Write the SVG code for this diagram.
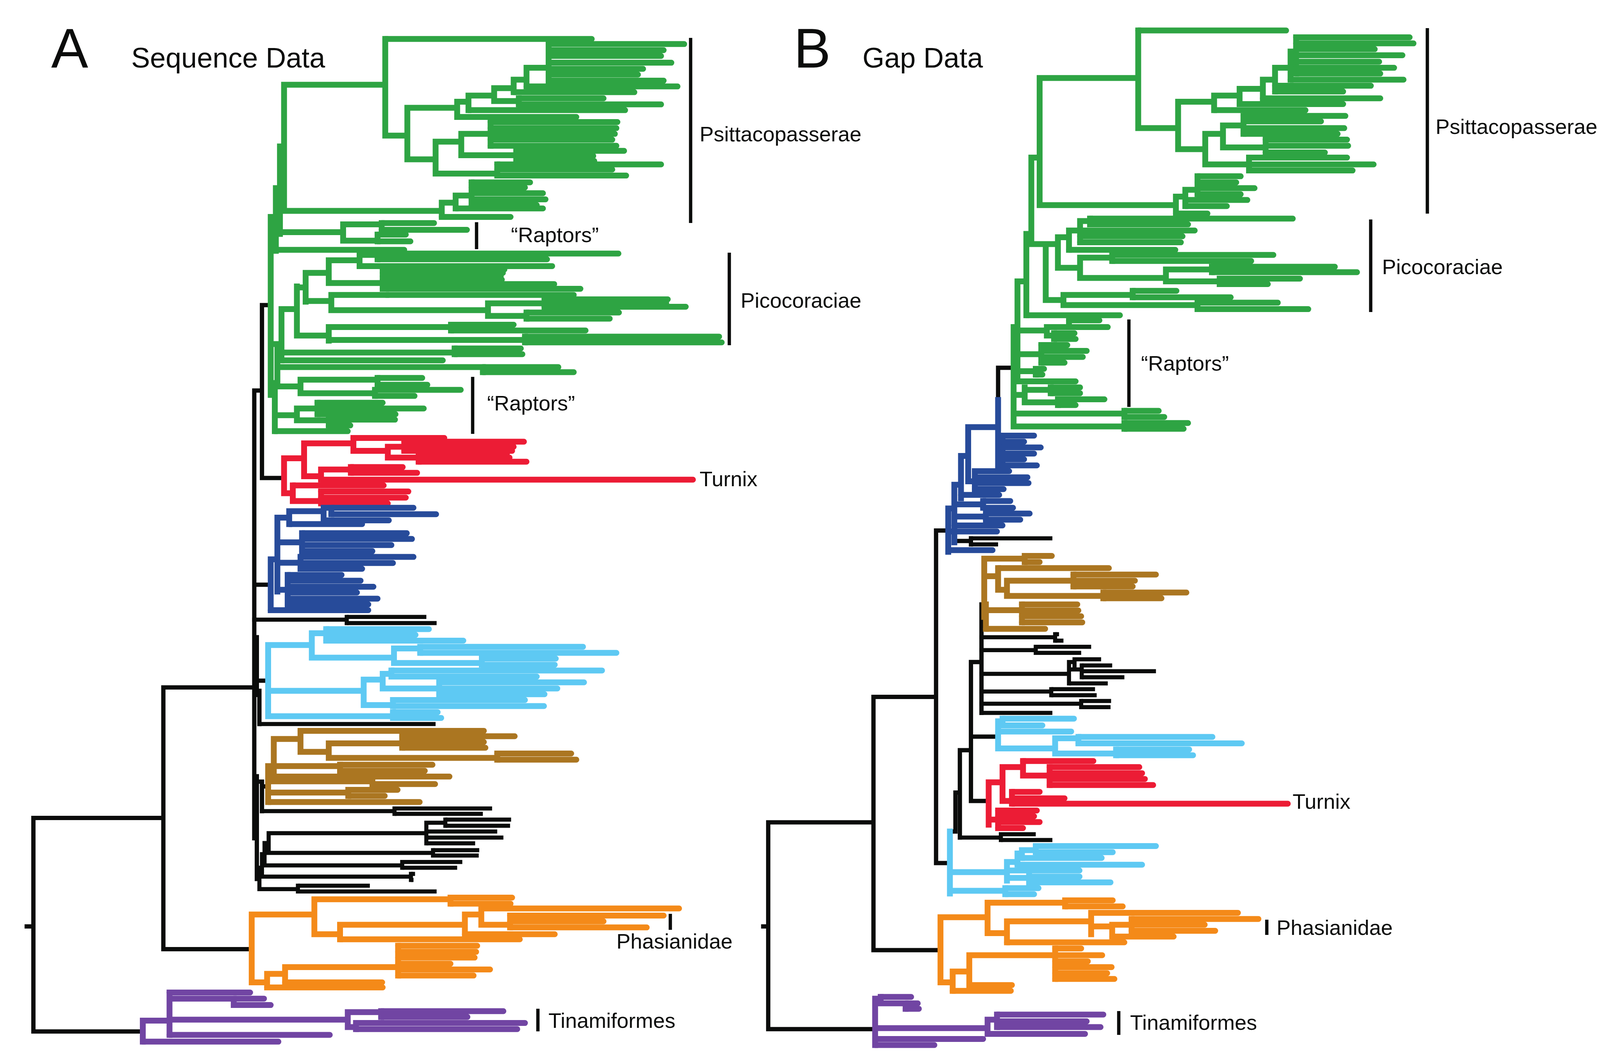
<svg xmlns="http://www.w3.org/2000/svg" width="4124" height="2722" viewBox="0 0 4124 2722">
<style>
path{fill:none;vector-effect:non-scaling-stroke}
.i{stroke-linecap:square;stroke-width:15}
.t{stroke-linecap:round;stroke-width:15}
.kb{stroke:#0b0c0b;stroke-width:11;stroke-linecap:square}
.ki{stroke:#0b0c0b;stroke-width:10.5;stroke-linecap:square}
.kt{stroke:#0b0c0b;stroke-width:10.5;stroke-linecap:butt}
.g{stroke:#2ea443}.r{stroke:#ec1c35}.b{stroke:#274b9a}.lb{stroke:#5ec9f3}.br{stroke:#ab7621}.o{stroke:#f48a19}.p{stroke:#7145a3}
.bar{stroke:#0b0c0b;stroke-width:8.5}
text{font-family:"Liberation Sans",Arial,Helvetica,sans-serif;fill:#0b0c0b}
.lab{font-size:54px}.ttl{font-size:72px}.big{font-size:142px}
</style>
<rect width="4124" height="2722" fill="#fff"/>

<g id="panelA" transform="matrix(1.315 0 0 0.868 0 0)">
 <g id="connectorsA">
  <path class="kb" d="M52,2733H65 M65,2413V3043 M65,2413H318 M65,3043H278 M318,2028V2800 M318,2028H495 M318,2800H490 M495,1152V2473 M495,1152H510 M510,900V1410 M510,900H527 M510,1410H553 M495,1725H527 M500,1880V2050 M495,2008H522 M505,2038V2136 M500,2290V2593 M510,2306V2393 M500,2306H510 M510,2320H522"/>
 </g>
 <g id="A-green">
  <path class="i g" d="M553,250V622 M553,250H750 M553,622H860 M545,432V690 M545,432H553 M537,555V740 M537,555H545 M527,640V1165 M527,640H537 M545,685H668 M527,1015H540 M540,1015V1140 M548,912V1063 M540,1040H885 M548,912H578 M578,845V990 M578,848H595 M578,990H640 M595,805V890 M595,805H640 M595,888H645 M640,768V835 M640,768H700 M640,835H745 M700,752V785 M700,752H735 M735,748V765 M745,795V852 M645,870V915 M645,870H752 M645,915H950 M950,895V932 M950,895H1060 M1060,883V905 M950,932H1025 M1025,922V940 M640,965V1005 M640,965H878 M878,958V975 M640,1003H1022 M1022,993V1010 M885,1028V1045 M540,1083H940 M940,1083V1098
  M750,115V400 M750,400H793 M793,318V470 M793,318H890 M793,470H848 M890,300V345 M890,300H912 M912,282V325 M912,282H962 M962,260V298 M962,260H1000 M962,298H1010 M1010,290V308 M1000,235V272 M1000,235H1025 M1025,200V255 M1025,200H1068 M1068,130V238 M848,418V512 M848,418H898 M848,512H968 M898,395V458 M898,395H955 M898,458H1005 M955,360V430 M1005,445V475 M968,485V518
  M860,598V640 M860,598H887 M887,577V615 M887,577H918 M918,538V605
  M668,662V710 M668,662H743 M668,710H735 M743,658V678 M735,692V712
  M540,1140H585 M585,1120V1160 M585,1120H735 M585,1160H730 M735,1115V1135 M730,1150V1168 M535,1130V1272 M535,1225H578 M578,1205V1240 M578,1205H618 M578,1240H640 M618,1188V1222 M640,1238V1255"/>
  <path class="t g" d="M735,748H1204 M735,765H1065 M700,785H1075 M745,795H982 M745,805H979 M745,815H975 M745,825H977 M745,838H1079 M745,852H1130 M752,870H1117 M1060,883H1300 M1060,894H1297 M1060,905H1335 M1025,922H1205 M1025,940H1187 M878,958H1000 M878,975H1140 M1022,993H1400 M1022,1010H1405 M885,1028H1014 M885,1045H1017 M548,1063H862 M940,1083H1087 M940,1098H1117
  M750,115H1152 M1068,130H1332 M1068,148H1292 M1068,165H1287 M1068,185H1307 M1068,203H1252 M1068,220H1242 M1068,238H1292 M1025,255H1319 M1000,272H1235 M1010,290H1175 M1010,308H1287 M912,325H1217 M890,345H1122 M955,360H1202 M955,378H1200 M955,395H1197 M955,412H1192 M955,430H1200 M1005,445H1215 M1005,460H1155 M1005,475H1157 M968,485H1287 M968,500H1192 M968,518H1219
  M860,640H994 M887,615H1057 M918,538H1032 M918,553H1022 M918,570H1057 M918,588H1062 M918,605H1045
  M743,658H845 M743,678H909 M735,692H790 M735,712H799 M537,737H787
  M735,1115H822 M735,1135H832 M730,1150H897 M730,1168H807 M618,1188H745 M618,1205H825 M618,1222H770 M640,1238H769 M640,1255H682 M535,1272H677"/>
 </g>
 <g id="A-red">
  <path class="i r" d="M553,1352V1455 M553,1352H592 M592,1308V1405 M592,1308H688 M592,1405H625 M688,1292V1330 M688,1330H755 M755,1318V1350 M755,1318H787 M755,1350H815 M787,1303V1330 M815,1338V1362 M625,1385V1415 M625,1385H683 M683,1378V1395 M553,1455H570 M570,1432V1478 M570,1478H625 M625,1450V1485"/>
  <path class="t r" d="M688,1292H865 M787,1303H1020 M787,1318H1000 M787,1330H997 M815,1338H987 M815,1350H992 M815,1362H1025 M683,1378H784 M683,1395H812 M625,1415H1349 M570,1432H747 M625,1450H795 M625,1468H790 M625,1485H755"/>
 </g>
 <g id="A-blue">
  <path class="i b" d="M540,1527V1745 M527,1650V1800 M527,1650H540 M540,1527H563 M563,1508V1546 M563,1508H630 M630,1498V1535 M630,1498H645 M645,1498V1517 M540,1600H588 M588,1573V1626 M540,1660H585 M585,1643V1678 M540,1740H560 M560,1696V1783"/>
  <path class="t b" d="M645,1498H805 M645,1517H849 M630,1535H757 M563,1546H705 M588,1573H792 M588,1590H802 M588,1608H762 M588,1626H725 M585,1643H805 M585,1661H765 M585,1678H705 M560,1696H665 M560,1713H702 M560,1731H727 M560,1748H695 M560,1766H735 M560,1783H717 M527,1800H717"/>
 </g>
 <g id="A-black">
  <path class="ki" d="M495,1828H675 M675,1820V1838 M510,2393H768 M768,2385V2401 M523,2458V2516 M515,2487V2553 M515,2487H523 M510,2520V2586 M510,2520H515 M505,2560V2623 M505,2560H510 M500,2593H505 M523,2458H830 M830,2427V2488 M830,2427H867 M867,2418V2436 M523,2516H843 M843,2508V2524 M510,2553H783 M783,2543V2560 M510,2586H800 M800,2578V2596 M505,2623H580 M580,2613V2630"/>
  <path class="kt" d="M675,1820H830 M675,1838H850 M505,2136H848 M768,2385H958 M768,2401H940 M867,2418H995 M867,2436H993 M830,2453H968 M830,2471H980 M830,2488H925 M843,2508H933 M843,2524H932 M783,2543H900 M783,2560H890 M800,2578H808 M800,2596H805 M580,2613H720 M580,2630H850"/>
 </g>
 <g id="A-lightblue">
  <path class="i lb" d="M522,1903V2113 M522,1903H607 M607,1868V1940 M607,1868H635 M635,1856V1890 M607,1940H767 M767,1913V1956 M767,1913H818 M818,1908V1926 M767,1956H938 M938,1943V1961 M522,2038H708 M708,2005V2080 M708,2005H745 M745,1988V2031 M745,1988H762 M762,1978V1996 M745,2031H855 M855,2013V2048 M708,2080H765 M765,2065V2083 M522,2113H765 M765,2101V2118"/>
  <path class="t lb" d="M635,1856H835 M635,1873H809 M635,1890H902 M818,1908H1135 M818,1926H1200 M938,1943H1082 M938,1961H1080 M762,1978H1172 M762,1996H1045 M855,2013H1137 M855,2031H1085 M855,2048H1060 M765,2065H1022 M765,2083H1059 M765,2101H852 M765,2118H859"/>
 </g>
 <g id="A-brown">
  <path class="i br" d="M533,2180V2285 M522,2285H533 M522,2260V2366 M533,2180H585 M585,2156V2218 M585,2218H640 M640,2193V2236 M640,2193H783 M783,2172V2206 M640,2236H968 M968,2223V2241 M522,2260H662 M662,2256V2274 M522,2305H725 M725,2305V2318 M522,2338H678 M678,2330V2348"/>
  <path class="t br" d="M585,2156H942 M783,2172H1002 M783,2189H942 M783,2206H945 M968,2223H1112 M968,2241H1122 M662,2256H842 M662,2274H827 M522,2291H875 M725,2313H847 M678,2330H774 M678,2348H749 M522,2366H817"/>
 </g>
 <g id="A-orange">
  <path class="i o" d="M490,2698V2898 M490,2698H612 M612,2653V2756 M612,2653H877 M877,2648V2666 M612,2756H662 M662,2728V2771 M662,2728H905 M905,2698V2756 M905,2698H937 M937,2680V2728 M937,2728H993 M993,2701V2736 M490,2898H520 M520,2873V2913 M520,2873H555 M555,2853V2898 M555,2853H775 M775,2790V2878"/>
  <path class="t o" d="M877,2648H997 M877,2666H994 M937,2680H1322 M993,2701H1292 M993,2718H1175 M993,2736H1259 M905,2756H1080 M662,2771H1012 M775,2790H929 M775,2808H927 M775,2825H924 M775,2843H877 M775,2860H954 M775,2878H922 M555,2898H744 M520,2913H745"/>
 </g>
 <g id="A-purple">
  <path class="i p" d="M278,3011V3073 M278,3011H330 M330,2928V3053 M330,2946H455 M455,2946V2965 M330,3008H677 M677,2986V3030 M677,2986H742 M742,2983V3000 M677,3030H693 M693,3018V3036"/>
  <path class="t p" d="M330,2928H487 M455,2946H514 M455,2965H527 M742,2983H980 M742,3000H910 M693,3018H1022 M693,3036H1007 M330,3053H642 M278,3073H542"/>
 </g>
</g>

<g id="panelB" transform="matrix(1.418 0 0 0.868 1900 0)">
 <g id="connectorsB">
  <path class="kb" d="M38,2733H47 M47,2426V3036 M47,2426H237 M47,3036H240 M237,2056V2803 M237,2056H350 M237,2803H358 M350,1565V2546 M350,1565H372 M350,2546H375 M462,1085V1180 M462,1085H490 M432,1783V2103 M413,1953V2363 M413,1953H432 M393,2213V2471 M393,2213H413 M413,2363H445 M385,2338V2453 M385,2338H393 M375,2453H385 M413,2173H462 M383,1596H413 M413,1588V1606 M432,1783H440"/>
 </g>
 <g id="B-green">
  <path class="i g" d="M715,90V378 M537,230H715 M715,378H787 M787,300V440 M787,300H852 M787,440H836 M852,282V325 M852,282H898 M898,262V307 M898,262H940 M940,235V290 M940,235H962 M962,200V270 M962,200H990 M990,152V235 M990,152H1000 M1000,110V217 M836,395V485 M836,395H868 M836,485H915 M868,370V435 M868,370H905 M868,435H945 M905,342V395 M945,412V450 M915,465V503
  M537,230V605 M537,605H783 M783,580V630 M783,580H800 M800,560V608 M800,560H822 M822,520V573
  M522,465V720 M522,465H537 M522,720H548 M513,690V930 M513,690H522 M497,830V1125 M497,830H513 M490,965V1258 M490,965H497
  M548,720V885 M548,720H570 M548,885H580 M570,700V790 M570,700H590 M570,790H610 M590,680V737 M590,680H610 M610,652V715 M610,652H628 M628,645V662 M610,760V820 M610,760H668 M668,752V770 M610,820H765 M765,795V830 M765,795H848 M848,787V803 M765,830H862 M862,822V838 M580,870V900 M580,870H705 M705,858V877 M580,900H822 M822,893V912
  M497,975H550 M550,965V990 M550,965H590 M590,945V965 M550,990H563 M563,983V1000 M497,1045H540 M540,1018V1070 M497,1095H530 M530,1088V1105 M490,1165H510 M510,1143V1187 M510,1150H557 M557,1143V1160 M510,1187H570 M570,1178V1195 M490,1220H690 M690,1212V1230 M490,1258H690 M690,1248V1265"/>
  <path class="t g" d="M715,90H982 M1000,110H1205 M1000,128H1212 M1000,145H1142 M1000,163H1192 M1000,182H1150 M1000,200H1177 M1000,217H1152 M990,235H1194 M962,253H1135 M962,270H1085 M940,290H1152 M898,307H1085 M852,325H1017 M905,342H1089 M905,358H1045 M905,378H1087 M905,395H1075 M945,412H1092 M945,430H1094 M945,450H1052 M915,465H1092 M915,485H1140 M915,503H1102
  M822,520H900 M822,538H892 M822,555H925 M822,573H900 M800,590H912 M800,608H875 M783,630H840
  M628,645H994 M628,662H805 M610,680H817 M610,697H795 M610,715H792 M590,737H782 M668,752H959 M668,770H919 M848,787H1070 M848,803H1110 M862,822H1007 M862,838H949 M705,858H784 M705,877H882 M822,893H967 M822,912H1022
  M513,930H682 M590,945H645 M590,965H660 M563,983H600 M563,1000H602 M540,1018H587 M540,1035H622 M540,1053H615 M540,1070H582 M530,1088H545 M530,1105H542 M497,1125H602 M557,1143H610 M557,1160H610 M570,1178H654 M570,1195H602 M690,1212H752 M690,1230H762 M690,1248H805 M690,1265H797"/>
 </g>
 <g id="B-blue">
  <path class="i b" d="M462,1180V1375 M408,1260H462 M408,1260V1420 M462,1330H470 M470,1285V1373 M408,1420H420 M420,1390V1443 M395,1345V1470 M395,1345H408 M383,1430V1600 M383,1430H395 M383,1488H435 M435,1478V1498 M383,1524H440 M440,1515V1533 M372,1500V1628 M372,1500H383"/>
  <path class="t b" d="M470,1285H527 M470,1303H509 M470,1320H539 M470,1338H527 M470,1355H509 M470,1373H532 M420,1390H482 M420,1408H515 M420,1425H517 M420,1443H472 M395,1460H464 M435,1478H484 M435,1498H489 M440,1515H519 M440,1533H502 M383,1550H470 M372,1568H460 M372,1623H452"/>
 </g>
 <g id="B-brown">
  <path class="i br" d="M437,1648V1820 M437,1648H510 M510,1640V1658 M437,1700H462 M462,1676V1740 M462,1740H478 M478,1713V1758 M478,1713H598 M598,1695V1730 M478,1758H652 M652,1748V1765 M440,1783V1855 M440,1800H505 M505,1783V1836"/>
  <path class="t br" d="M510,1640H559 M510,1658H537 M462,1676H662 M598,1695H747 M598,1713H709 M598,1730H705 M652,1748H802 M652,1765H757 M505,1783H605 M505,1801H607 M505,1818H612 M505,1836H614 M440,1855H547"/>
 </g>
 <g id="B-black">
  <path class="ki" d="M432,1880H565 M565,1871V1890 M432,1918H530 M530,1908V1926 M432,1988H590 M590,1953V2016 M590,1953H600 M600,1945V1963 M590,1975H613 M613,1963V1998 M432,2040H558 M558,2033V2051 M432,2076H612 M612,2068V2086 M393,2471H467 M467,2461V2478"/>
  <path class="kt" d="M413,1588H560 M413,1606H462 M565,1871H572 M565,1890H580 M530,1908H630 M530,1926H612 M600,1945H648 M613,1963H668 M613,1980H747 M613,1998H690 M590,2016H660 M558,2033H637 M558,2051H640 M612,2068H666 M612,2086H665 M432,2103H560 M467,2461H530 M467,2478H560"/>
 </g>
 <g id="B-lightblue">
  <path class="i lb" d="M462,2128V2208 M462,2128H470 M470,2120V2140 M462,2208H565 M565,2178V2223 M565,2178H607 M607,2174V2193 M565,2223H675 M675,2211V2228 M375,2453V2636 M375,2573H478 M478,2543V2598 M478,2543H497 M497,2518V2551 M497,2518H505 M505,2508V2531 M505,2508H530 M530,2496V2514 M478,2590H518 M518,2578V2603 M375,2628H475 M475,2620V2638"/>
  <path class="t lb" d="M470,2120H599 M470,2140H542 M462,2158H594 M607,2174H849 M607,2193H902 M675,2211H807 M675,2228H814 M530,2496H747 M530,2514H669 M505,2531H649 M497,2551H722 M478,2568H609 M518,2586H609 M518,2603H665 M475,2620H535 M475,2638H527"/>
 </g>
 <g id="B-red">
  <path class="i r" d="M445,2308V2433 M445,2308H470 M470,2263V2363 M470,2263H507 M507,2245V2288 M507,2288H555 M555,2263V2316 M470,2363H487 M487,2336V2371 M445,2418H462 M462,2391V2443"/>
  <path class="t r" d="M507,2245H634 M555,2263H717 M555,2281H722 M555,2298H727 M555,2316H742 M487,2336H537 M487,2355H582 M487,2371H985 M462,2391H532 M462,2408H527 M462,2425H537 M462,2443H507"/>
 </g>
 <g id="B-orange">
  <path class="i o" d="M358,2706V2898 M358,2706H443 M443,2663V2753 M443,2663H583 M583,2656V2674 M443,2753H478 M478,2718V2780 M478,2718H630 M630,2693V2756 M630,2733H668 M668,2728V2763 M668,2728H703 M703,2711V2746 M358,2898H380 M380,2866V2923 M380,2866H410 M410,2818V2906 M410,2818H565 M565,2798V2888"/>
  <path class="t o" d="M583,2656H669 M583,2674H687 M630,2693H895 M703,2711H932 M703,2728H835 M703,2746H854 M668,2763H779 M478,2780H690 M565,2798H612 M565,2818H650 M565,2836H624 M565,2853H667 M565,2871H659 M565,2888H672 M410,2906H487 M380,2923H485"/>
 </g>
 <g id="B-purple">
  <path class="i p" d="M240,2946V3083 M240,2946H250 M250,2941V2960 M250,2960H295 M295,2960V2976 M240,3033H443 M443,3008V3050 M443,3008H460 M460,2993V3030"/>
  <path class="t p" d="M250,2941H305 M295,2960H317 M295,2976H319 M460,2993H652 M460,3013H622 M460,3030H647 M443,3050H619 M240,3065H435 M240,3083H347"/>
 </g>
</g>

<g id="bars">
 <path class="bar" d="M1768,97V571 M1220,569V638 M1867,647V884 M1210,965V1111 M1716,2340V2381 M1377,2583V2641 M3654,72V547 M3509,562V799 M2890,818V1042 M3243,2355V2394 M2864,2589V2650"/>
</g>
<g id="titles">
 <text class="big" x="131" y="173">A</text>
 <text class="ttl" x="336" y="173">Sequence Data</text>
 <text class="big" x="2032" y="173">B</text>
 <text class="ttl" x="2208" y="173">Gap Data</text>
</g>
<g id="labelsA">
 <text class="lab" x="1791" y="362">Psittacopasserae</text>
 <text class="lab" x="1308" y="620">“Raptors”</text>
 <text class="lab" x="1896" y="788">Picocoraciae</text>
 <text class="lab" x="1247" y="1051">“Raptors”</text>
 <text class="lab" x="1791" y="1245">Turnix</text>
 <text class="lab" x="1578" y="2429">Phasianidae</text>
 <text class="lab" x="1404" y="2632">Tinamiformes</text>
</g>
<g id="labelsB">
 <text class="lab" x="3675" y="343">Psittacopasserae</text>
 <text class="lab" x="3538" y="702">Picocoraciae</text>
 <text class="lab" x="2921" y="949">“Raptors”</text>
 <text class="lab" x="3309" y="2071">Turnix</text>
 <text class="lab" x="3268" y="2394">Phasianidae</text>
 <text class="lab" x="2893" y="2637">Tinamiformes</text>
</g>
</svg>
